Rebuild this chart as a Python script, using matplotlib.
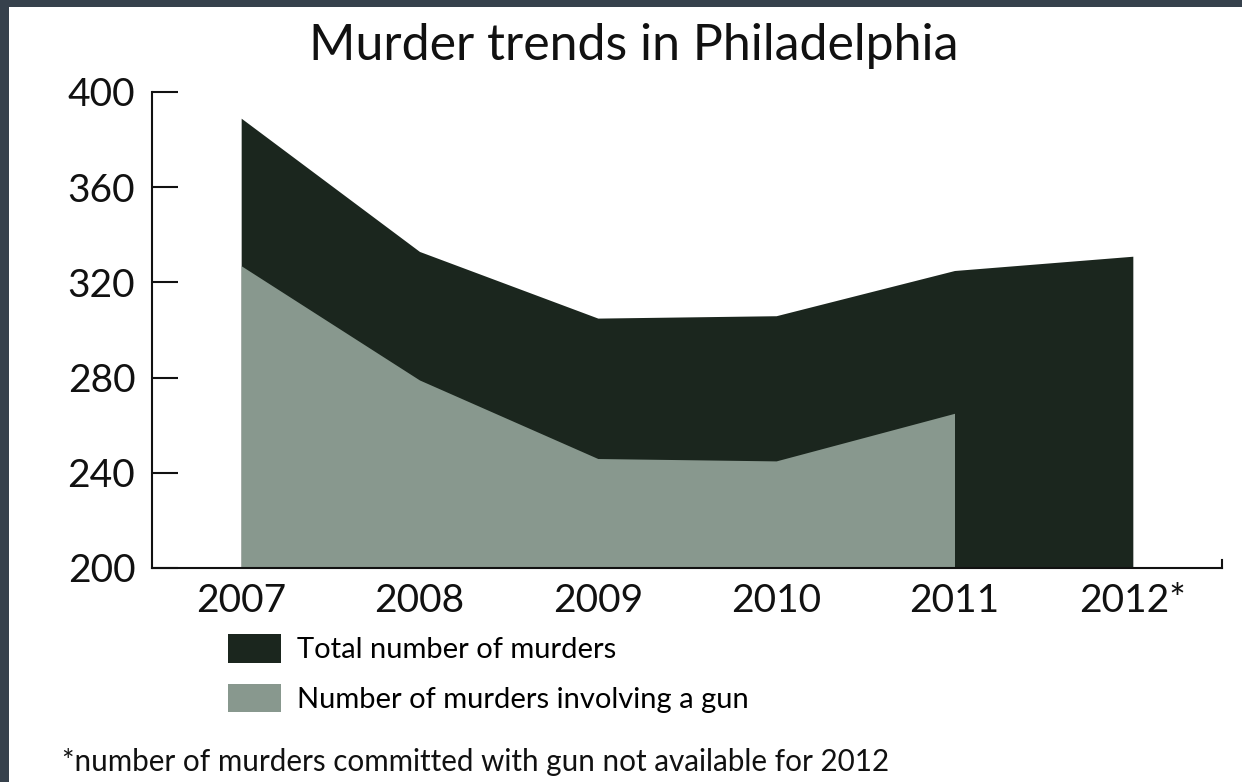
import matplotlib
matplotlib.use("Agg")
import matplotlib.pyplot as plt
from matplotlib.patches import Patch, Rectangle

years = [2007, 2008, 2009, 2010, 2011, 2012]
year_labels = ["2007", "2008", "2009", "2010", "2011", "2012*"]
total_murders = [389, 333, 305, 306, 325, 331]
gun_years = [2007, 2008, 2009, 2010, 2011]
gun_murders = [327, 279, 246, 245, 265]
y_ticks = [200, 240, 280, 320, 360, 400]

DARK = "#1b261e"
LIGHT = "#88988e"
BORDER = "#36414c"
FONT = ["Lato", "DejaVu Sans"]

W, H = 1242, 782
fig = plt.figure(figsize=(W / 100, H / 100), dpi=100, facecolor=BORDER)
fig.patches.append(Rectangle((9 / W, 0), 1 - 9 / W, 1 - 7 / H, transform=fig.transFigure,
                             facecolor="white", edgecolor="none", zorder=-10))

ax = fig.add_axes([152 / W, (H - 568) / H, (1222 - 152) / W, (568 - 92) / H])
ax.set_zorder(2)
ax.set_facecolor("white")
ax.fill_between(years, 200, total_murders, color=DARK, linewidth=0, zorder=2)
ax.fill_between(gun_years, 200, gun_murders, color=LIGHT, linewidth=0, zorder=3)

ax.set_xlim(2006.5, 2012.5)
ax.set_ylim(200, 400)
ax.set_yticks(y_ticks)
ax.set_xticks(years)
ax.set_xticklabels(year_labels)
for s in ["top", "right"]:
    ax.spines[s].set_visible(False)
for s in ["left", "bottom"]:
    ax.spines[s].set_linewidth(1.5)
    ax.spines[s].set_color("#111111")
    ax.spines[s].set_zorder(5)
ax.tick_params(axis="y", direction="in", length=18.5, width=1.5, color="#111111", pad=12,
               labelsize=28)
ax.tick_params(axis="x", length=0, pad=11, labelsize=28)
for lab in ax.get_xticklabels() + ax.get_yticklabels():
    lab.set_family(FONT)
    lab.set_color("#111111")
ax.plot([1, 1], [0, 0.017], transform=ax.transAxes, color="#111111", lw=1.5, clip_on=False)

fig.text(634 / W, 1 - 60 / H, "Murder trends in Philadelphia", ha="center", va="baseline",
         fontsize=36, family=FONT, color="#111111")

handles = [Patch(facecolor=DARK, edgecolor="none"), Patch(facecolor=LIGHT, edgecolor="none")]
fig.legend(handles, ["Total number of murders", "Number of murders involving a gun"],
           loc="upper left", bbox_to_anchor=(202 / W, 1 - 608 / H), frameon=False,
           prop={"family": FONT, "size": 21}, handlelength=1.8, handleheight=1.12,
           labelspacing=0.7, handletextpad=0.55)

fig.text(62 / W, 1 - 771 / H, "*number of murders committed with gun not available for 2012",
         ha="left", va="baseline", fontsize=21.3, family=FONT, color="#111111")

fig.savefig("out.png", dpi=100, facecolor=BORDER)
